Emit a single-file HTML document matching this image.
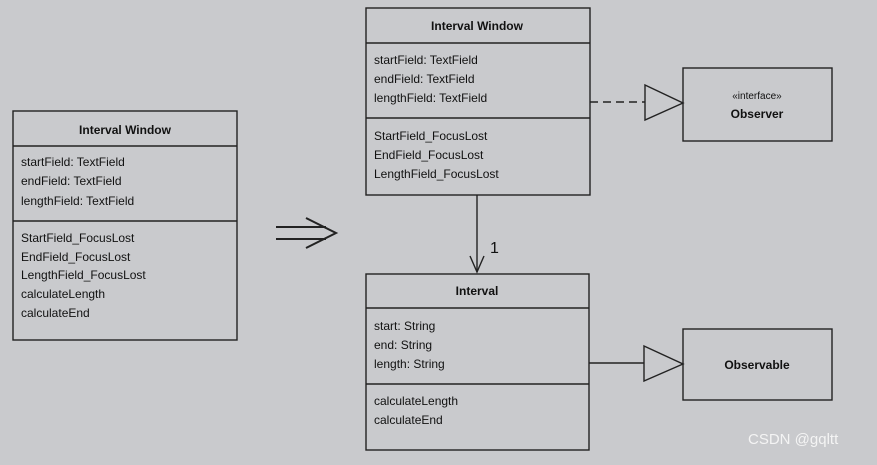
<!DOCTYPE html>
<html><head><style>
body{margin:0;width:877px;height:460px;background:#c9cacd;font-family:"Liberation Sans",sans-serif;overflow:hidden}
svg text{font-family:"Liberation Sans",sans-serif;font-size:12px;fill:#111}
.b{font-weight:bold}
</style></head><body>
<svg width="877" height="460" xmlns="http://www.w3.org/2000/svg">
<g fill="none" stroke="#222" stroke-width="1.4">
<rect x="13" y="111" width="224" height="229"/>
<line x1="13" y1="146" x2="237" y2="146"/>
<line x1="13" y1="221" x2="237" y2="221"/>
<rect x="366" y="8" width="224" height="187"/>
<line x1="366" y1="43" x2="590" y2="43"/>
<line x1="366" y1="118" x2="590" y2="118"/>
<rect x="366" y="274" width="223" height="176"/>
<line x1="366" y1="308" x2="589" y2="308"/>
<line x1="366" y1="384" x2="589" y2="384"/>
<rect x="683" y="68" width="149" height="73"/>
<rect x="683" y="329" width="149" height="71"/>
<line x1="590" y1="102" x2="645" y2="102" stroke-dasharray="8,5"/>
<polygon points="645,85 683,103 645,120"/>
<line x1="589" y1="363" x2="644" y2="363"/>
<polygon points="644,346 683,364 644,381"/>
<line x1="477" y1="195" x2="477" y2="272"/>
<polyline points="470,256 477,272 484,256"/>
<line x1="276" y1="227" x2="326" y2="227" stroke-width="2"/>
<line x1="276" y1="239" x2="326" y2="239" stroke-width="2"/>
<polyline points="306,218 336,233 306,248" stroke-width="2"/>
</g>
<text x="125" y="134" text-anchor="middle" class="b">Interval Window</text>
<text x="21" y="166">startField: TextField</text>
<text x="21" y="185">endField: TextField</text>
<text x="21" y="205">lengthField: TextField</text>
<text x="21" y="242">StartField_FocusLost</text>
<text x="21" y="261">EndField_FocusLost</text>
<text x="21" y="279">LengthField_FocusLost</text>
<text x="21" y="298">calculateLength</text>
<text x="21" y="317">calculateEnd</text>
<text x="477" y="30" text-anchor="middle" class="b">Interval Window</text>
<text x="374" y="64">startField: TextField</text>
<text x="374" y="83">endField: TextField</text>
<text x="374" y="102">lengthField: TextField</text>
<text x="374" y="140">StartField_FocusLost</text>
<text x="374" y="159">EndField_FocusLost</text>
<text x="374" y="178">LengthField_FocusLost</text>
<text x="477" y="295" text-anchor="middle" class="b">Interval</text>
<text x="374" y="330">start: String</text>
<text x="374" y="349">end: String</text>
<text x="374" y="368">length: String</text>
<text x="374" y="405">calculateLength</text>
<text x="374" y="424">calculateEnd</text>
<text x="757" y="99" text-anchor="middle" style="font-size:10px">«interface»</text>
<text x="757" y="118" text-anchor="middle" class="b">Observer</text>
<text x="757" y="369" text-anchor="middle" class="b">Observable</text>
<text x="490" y="253" style="font-size:16px">1</text>
<text x="748" y="444" style="font-size:15px;fill:#f4f4f4">CSDN @gqltt</text>
</svg>
</body></html>
